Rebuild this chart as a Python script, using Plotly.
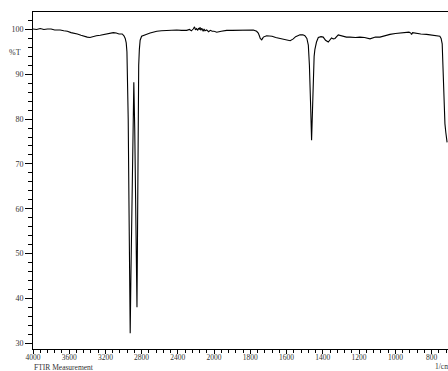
import plotly.graph_objects as go

# ---- data ----
wavenumber = [
    4000, 3960, 3920, 3880, 3840, 3800, 3760, 3720, 3700, 3660, 3620, 3580, 3540, 3510,
    3470, 3430, 3400, 3370, 3340, 3300, 3257, 3200, 3150, 3113, 3080, 3050, 3014, 2995,
    2981, 2970, 2962, 2955, 2948, 2940, 2933, 2926, 2918, 2908, 2898, 2886, 2876, 2866,
    2858, 2851, 2845, 2838, 2832, 2825, 2816, 2800, 2780, 2750, 2706, 2670, 2632, 2580,
    2522, 2470, 2412, 2360, 2302, 2270, 2250, 2230, 2215, 2205, 2192, 2180, 2170, 2160,
    2155, 2145, 2135, 2120, 2110, 2100, 2081, 2060, 2040, 2020, 2000, 1985, 1960, 1930,
    1900, 1857, 1820, 1783, 1765, 1756, 1750, 1745, 1737, 1728, 1710, 1680, 1660, 1636,
    1615, 1599, 1580, 1563, 1550, 1526, 1510, 1499, 1488, 1480, 1474, 1468, 1462, 1457,
    1453, 1448, 1444, 1435, 1425, 1410, 1398, 1385, 1370, 1360, 1352, 1342, 1333, 1315,
    1300, 1288, 1270, 1251, 1220, 1196, 1170, 1140, 1110, 1085, 1060, 1030, 1000, 975,
    955, 938, 925, 915, 911, 905, 895, 883, 860, 828, 800, 773, 755, 748, 742, 738, 735,
    733, 731, 730, 729, 727, 722, 718, 715,
]
transmittance = [
    100.1, 100.0, 100.2, 100.0, 100.1, 100.1, 99.9, 100.0, 99.9, 99.7, 99.6, 99.3, 99.2, 99.0,
    98.7, 98.4, 98.3, 98.2, 98.4, 98.6, 98.7, 98.9, 99.1, 99.3, 99.2, 99.0, 99.0, 98.6,
    98.0, 97.0, 95.0, 90.0, 80.0, 62.0, 45.0, 32.2, 45.0, 62.0, 78.0, 88.2, 78.0, 60.0,
    45.0, 38.0, 55.0, 80.0, 92.0, 95.5, 97.6, 98.5, 98.7, 98.9, 99.2, 99.4, 99.6, 99.7,
    99.8, 99.8, 99.9, 99.8, 99.8, 100.0, 99.7, 100.1, 100.6, 99.9, 100.2, 99.8, 100.3, 100.0,
    100.5, 99.8, 100.3, 99.6, 100.1, 99.7, 99.9, 99.5, 99.8, 99.6, 99.6, 99.4, 99.6, 99.8,
    99.8, 99.8, 99.8, 99.9, 99.6, 99.2, 98.6, 98.0, 97.7, 98.3, 98.6, 98.5, 98.2, 98.0,
    97.7, 97.6, 97.5, 97.9, 98.4, 98.8, 98.8, 98.6, 98.0, 96.5, 92.0, 84.0, 75.3, 82.0,
    90.0, 94.0, 95.5, 97.2, 98.2, 98.4, 98.3, 97.6, 97.2, 97.7, 98.1, 97.9, 98.0, 98.8,
    98.6, 98.4, 98.3, 98.3, 98.2, 98.3, 98.2, 97.9, 98.3, 98.3, 98.6, 98.9, 99.1, 99.2,
    99.4, 99.5, 99.4, 99.2, 98.9, 99.3, 99.2, 99.1, 99.0, 98.9, 98.8, 98.7, 98.5, 98.0, 96.8, 92.0, 87.0,
    84.0, 83.5, 82.0, 80.4, 79.0, 77.0, 75.3, 74.8,
]

high_ticks = [4000, 3600, 3200, 2800, 2400]
low_ticks = [2000, 1800, 1600, 1400, 1200, 1000, 800]
y_ticks = [30, 40, 50, 60, 70, 80, 90, 100]

x_split = 2000
hi_range = [4000, 2000]
lo_range = [2000, 710]
y_range = [28.7, 103.9]

# split into the two x scales (FTIR axis with scale change at 2000 1/cm)
hx = [w for w in wavenumber if w >= x_split]
hy = [t for w, t in zip(wavenumber, transmittance) if w >= x_split]
lx = [w for w in wavenumber if w <= x_split]
ly = [t for w, t in zip(wavenumber, transmittance) if w <= x_split]

W, H = 448, 371
ml, mr, mt, mb = 33, 0, 12, 22
split_frac = (214 - ml) / (W - ml - mr)

font = dict(family="Liberation Serif", size=8, color="#333333")
small = dict(family="Liberation Serif", size=7.5, color="#333333")
line = dict(color="black", width=1.1)

fig = go.Figure()
fig.add_trace(go.Scatter(x=hx, y=hy, mode="lines", line=line, xaxis="x", yaxis="y",
                         showlegend=False, hoverinfo="skip"))
fig.add_trace(go.Scatter(x=lx, y=ly, mode="lines", line=line, xaxis="x2", yaxis="y",
                         showlegend=False, hoverinfo="skip"))

common_x = dict(showgrid=False, zeroline=False, showline=True, linecolor="black", linewidth=1,
                ticks="outside", ticklen=4, tickwidth=1, tickcolor="black", tickfont=small,
                ticklabelstandoff=-3, mirror=True)
fig.update_layout(
    width=W, height=H,
    margin=dict(l=ml, r=mr, t=mt, b=mb, pad=0),
    paper_bgcolor="white", plot_bgcolor="rgba(0,0,0,0)",
    xaxis=dict(range=hi_range, domain=[0, split_frac], tickvals=high_ticks,
               minor=dict(tick0=4000, dtick=80, ticklen=3, ticks="outside", tickcolor="black"),
               **common_x),
    xaxis2=dict(range=lo_range, domain=[split_frac, 1], tickvals=low_ticks, anchor="y",
                minor=dict(tick0=2000, dtick=40, ticklen=3, ticks="outside", tickcolor="black"),
                **common_x),
    yaxis=dict(range=y_range, tickvals=y_ticks, showgrid=False, zeroline=False, showline=True,
               linecolor="black", linewidth=1, ticks="outside", ticklen=7, tickwidth=1,
               tickcolor="black", tickfont=font,
               minor=dict(tick0=30, dtick=2, ticklen=4, ticks="outside", tickcolor="black")),
    annotations=[
        dict(text="%T", xref="paper", yref="y", x=0, y=94.9, xanchor="right", yanchor="middle",
             xshift=-10, showarrow=False, font=font),
        dict(text="FTIR Measurement", xref="paper", yref="paper", x=0, y=0,
             xanchor="left", yanchor="top", yshift=-12.5, borderpad=0, showarrow=False,
             font=small),
        dict(text="1/cm", xref="x2", yref="paper", x=800, y=0, xanchor="left",
             yanchor="top", yshift=-11.5, xshift=2, borderpad=0, showarrow=False, font=small),
    ],
)

fig.write_html("out.html")
